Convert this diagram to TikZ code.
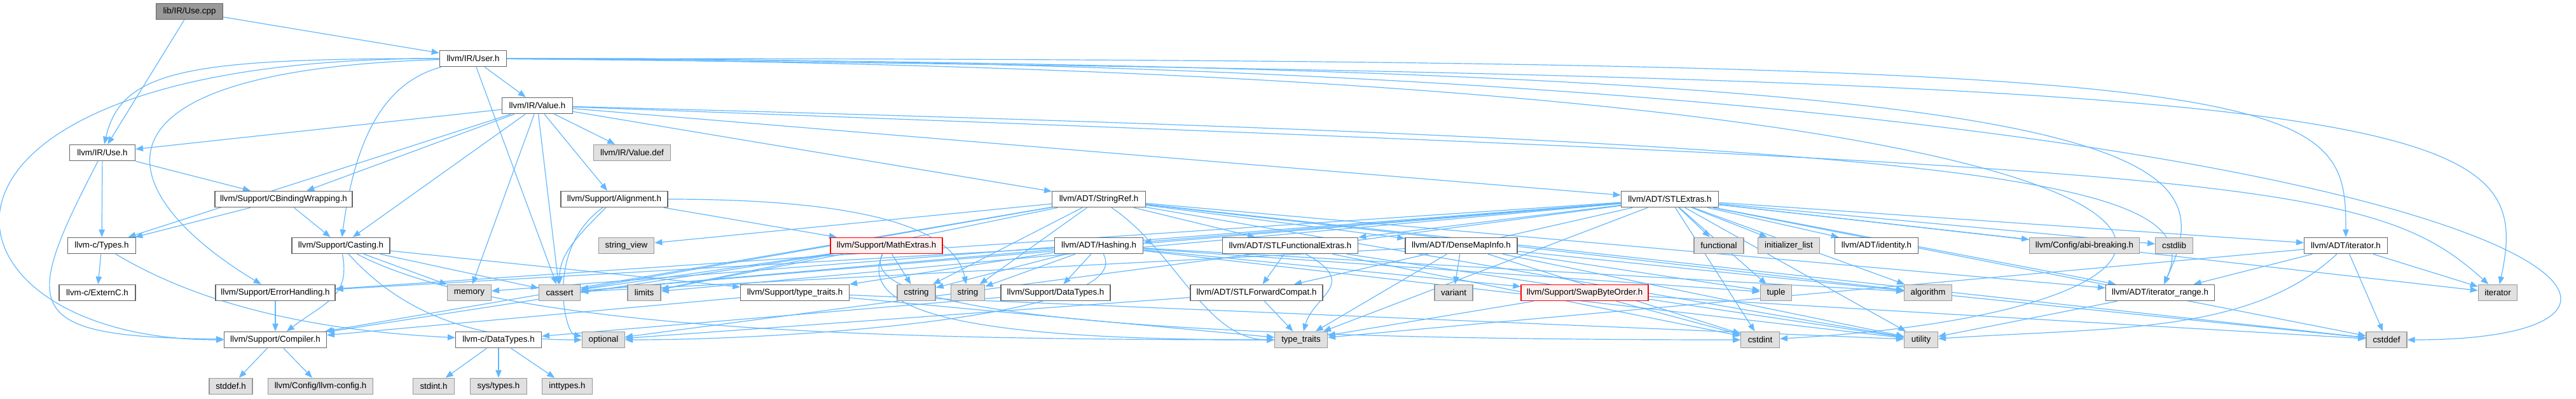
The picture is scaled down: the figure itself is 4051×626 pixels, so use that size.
\documentclass[tikz,border=0pt]{standalone}
\usepackage{fontspec}
\setmainfont{Liberation Sans}
\usetikzlibrary{arrows.meta,backgrounds}
\definecolor{edgeblue}{HTML}{63B8FF}
\definecolor{boxgray}{HTML}{E0E0E0}
\definecolor{framegray}{HTML}{666666}
\definecolor{sysframe}{HTML}{999999}
\definecolor{curgray}{HTML}{999999}
\definecolor{truncfill}{HTML}{FFF0F0}

\begin{document}
\begin{tikzpicture}[
  x=0.75pt, y=-0.75pt,
  file/.style={draw=framegray, fill=white, line width=1pt, minimum height=19pt, inner sep=0pt, font=\fontsize{10}{12}\selectfont},
  sys/.style={file, draw=sysframe, fill=boxgray},
  cur/.style={file, fill=curgray},
  trunc/.style={file, draw=red, fill=truncfill},
  dep/.style={edgeblue, line width=0.9pt, -{Triangle[length=9pt,width=7pt]}}
]
  \useasboundingbox (0,0) rectangle (4051,626);

  % Source file and IR headers
  \node[cur, minimum width=79pt] (usecpp) at (298,18) {lib/IR/Use.cpp};
  \node[file, minimum width=79pt] (userh) at (744,92) {llvm/IR/User.h};
  \node[file, minimum width=83pt] (valueh) at (845,166) {llvm/IR/Value.h};
  \node[file, minimum width=77pt] (useh) at (161,240) {llvm/IR/Use.h};
  \node[sys, minimum width=91pt] (valuedef) at (994,240) {llvm/IR/Value.def};

  % Second level headers
  \node[file, minimum width=162pt] (cbind) at (446,313) {llvm/Support/CBindingWrapping.h};
  \node[file, minimum width=126pt] (align) at (966,313) {llvm/Support/Alignment.h};
  \node[file, minimum width=110pt] (stringref) at (1728,313) {llvm/ADT/StringRef.h};
  \node[file, minimum width=115pt] (stlextras) at (2626,313) {llvm/ADT/STLExtras.h};

  % Third level
  \node[file, minimum width=80pt] (typesh) at (160,386) {llvm-c/Types.h};
  \node[file, minimum width=115.5pt] (casting) at (536,386) {llvm/Support/Casting.h};
  \node[sys, minimum width=65.6pt] (strview) at (985,386) {string\_view};
  \node[trunc, minimum width=132pt] (mathext) at (1394,386) {llvm/Support/MathExtras.h};
  \node[file, minimum width=104.5pt] (hashing) at (1728,386) {llvm/ADT/Hashing.h};
  \node[file, minimum width=160pt] (stlfunc) at (2029,386) {llvm/ADT/STLFunctionalExtras.h};
  \node[file, minimum width=132pt] (densemap) at (2298,386) {llvm/ADT/DenseMapInfo.h};
  \node[sys, minimum width=58.5pt] (functional) at (2703,386) {functional};
  \node[sys, minimum width=72.5pt] (initlist) at (2813,386) {initializer\_list};
  \node[file, minimum width=98pt] (identity) at (2951,386) {llvm/ADT/identity.h};
  \node[sys, minimum width=129.5pt] (abibreak) at (3278,386) {llvm/Config/abi-breaking.h};
  \node[sys, minimum width=44pt] (cstdlib) at (3419,386) {cstdlib};
  \node[file, minimum width=98pt] (iteratorh) at (3689,386) {llvm/ADT/iterator.h};

  % Fourth level
  \node[file, minimum width=90pt] (externc) at (153,460) {llvm-c/ExternC.h};
  \node[file, minimum width=141pt] (errh) at (433,460) {llvm/Support/ErrorHandling.h};
  \node[sys, minimum width=51.6pt] (memory) at (738,460) {memory};
  \node[sys, minimum width=48.5pt] (cassert) at (880,460) {cassert};
  \node[sys, minimum width=39pt] (limits) at (1013,460) {limits};
  \node[file, minimum width=128pt] (sptypetraits) at (1250,460) {llvm/Support/type\_traits.h};
  \node[sys, minimum width=45pt] (cstring) at (1441,460) {cstring};
  \node[sys, minimum width=40pt] (string) at (1522,460) {string};
  \node[file, minimum width=129pt] (sdatatypes) at (1660,460) {llvm/Support/DataTypes.h};
  \node[file, minimum width=156pt] (stlfwd) at (1976,460) {llvm/ADT/STLForwardCompat.h};
  \node[sys, minimum width=45pt] (variant) at (2286,460) {variant};
  \node[trunc, minimum width=150pt] (swapbyte) at (2492,460) {llvm/Support/SwapByteOrder.h};
  \node[sys, minimum width=37pt] (tuple) at (2793,460) {tuple};
  \node[sys, minimum width=56pt] (algorithm) at (3032,460) {algorithm};
  \node[file, minimum width=128pt] (iterrange) at (3397,460) {llvm/ADT/iterator\_range.h};
  \node[sys, minimum width=46pt] (iterator) at (3928,460) {iterator};

  % Fifth level
  \node[file, minimum width=120.5pt] (compiler) at (433,534) {llvm/Support/Compiler.h};
  \node[file, minimum width=101pt] (cdatatypes) at (784,534) {llvm-c/DataTypes.h};
  \node[sys, minimum width=50pt] (optional) at (949,534) {optional};
  \node[sys, minimum width=62pt] (typetraits) at (2046,534) {type\_traits};
  \node[sys, minimum width=45.5pt] (cstdint) at (2768,534) {cstdint};
  \node[sys, minimum width=39.5pt] (utility) at (3021,534) {utility};
  \node[sys, minimum width=48pt] (cstddef) at (3753,534) {cstddef};

  % Bottom row
  \node[sys, minimum width=51pt] (stddefh) at (363,607) {stddef.h};
  \node[sys, minimum width=124pt] (llvmconfig) at (504,607) {llvm/Config/llvm-config.h};
  \node[sys, minimum width=48.5pt] (stdinth) at (682,607) {stdint.h};
  \node[sys, minimum width=67pt] (systypes) at (784,607) {sys/types.h};
  \node[sys, minimum width=59pt] (inttypes) at (892,607) {inttypes.h};

  \begin{scope}[on background layer]
  % Use.cpp
  \draw[dep] (usecpp) -- (useh);
  \draw[dep] (usecpp) -- (userh);

  % User.h
  \draw[dep] (userh) .. controls +(-450,0) and +(30,-130) .. (useh);
  \draw[dep] (userh) .. controls +(-950,0) and +(-560,0) .. (compiler);
  \draw[dep] (userh) .. controls +(-650,20) and +(-250,-150) .. (errh);
  \draw[dep] (userh) .. controls +(-150,40) and +(20,-150) .. (casting);
  \draw[dep] (userh) -- (cassert);
  \draw[dep] (userh) -- (valueh);
  \draw[dep] (userh) .. controls +(2900,0) and +(0,-250) .. (iteratorh);
  \draw[dep] (userh) .. controls +(2700,10) and +(100,-220) .. (iterrange);
  \draw[dep] (userh) .. controls +(3000,20) and +(900,-50) .. (cstdint);
  \draw[dep] (userh) .. controls +(3200,0) and +(650,0) .. (cstddef);
  \draw[dep] (userh) .. controls +(3100,30) and +(60,-280) .. (iterator);

  % Value.h
  \draw[dep] (valueh) -- (useh);
  \draw[dep] (valueh) -- (typesh);
  \draw[dep] (valueh) -- (cbind);
  \draw[dep] (valueh) -- (casting);
  \draw[dep] (valueh) -- (memory);
  \draw[dep] (valueh) -- (cassert);
  \draw[dep] (valueh) -- (valuedef);
  \draw[dep] (valueh) -- (align);
  \draw[dep] (valueh) -- (stringref);
  \draw[dep] (valueh) -- (stlextras);
  \draw[dep] (valueh) .. controls +(2300,60) and +(80,-180) .. (iterrange);
  \draw[dep] (valueh) .. controls +(2700,100) and +(-200,-180) .. (iterator);

  % Use.h and CBindingWrapping.h
  \draw[dep] (useh) -- (cbind);
  \draw[dep] (useh) -- (typesh);
  \draw[dep] (useh) .. controls +(-130,250) and +(-400,-5) .. (compiler);
  \draw[dep] (cbind) -- (typesh);
  \draw[dep] (cbind) -- (casting);

  % Types.h
  \draw[dep] (typesh) -- (externc);
  \draw[dep] (typesh) .. controls +(150,90) and +(-300,-15) .. (cdatatypes);

  % Casting.h
  \draw[dep] (casting) .. controls +(15,80) and +(80,-60) .. (compiler);
  \draw[dep] (casting) -- (sptypetraits);
  \draw[dep] (casting) -- (cassert);
  \draw[dep] (casting) -- (memory);
  \draw[dep] (casting) .. controls +(100,110) and +(-200,0) .. (optional);
  \draw[dep] (casting) .. controls +(250,130) and +(-700,0) .. (typetraits);

  % ErrorHandling.h, Compiler.h, DataTypes.h
  \draw[dep] (errh) -- (compiler);
  \draw[dep] (compiler) -- (stddefh);
  \draw[dep] (compiler) -- (llvmconfig);
  \draw[dep] (cdatatypes) -- (stdinth);
  \draw[dep] (cdatatypes) -- (systypes);
  \draw[dep] (cdatatypes) -- (inttypes);

  % Alignment.h
  \draw[dep] (align) -- (mathext);
  \draw[dep] (align) .. controls +(-60,60) and +(0,-60) .. (cassert);
  \draw[dep] (align) .. controls +(-110,80) and +(-60,-10) .. (optional);
  \draw[dep] (align) .. controls +(400,0) and +(-20,-100) .. (string);

  % MathExtras.h
  \draw[dep] (mathext) -- (cstring);
  \draw[dep] (mathext) -- (limits);
  \draw[dep] (mathext) -- (cassert);
  \draw[dep] (mathext) -- (compiler);
  \draw[dep] (mathext) .. controls +(-60,120) and +(-800,0) .. (cstdint);
  \draw[dep] (mathext) .. controls +(-50,110) and +(-500,0) .. (typetraits);

  % StringRef.h
  \draw[dep] (stringref) -- (densemap);
  \draw[dep] (stringref) -- (stlfunc);
  \draw[dep] (stringref) -- (iterrange);
  \draw[dep] (stringref) -- (compiler);
  \draw[dep] (stringref) -- (algorithm);
  \draw[dep] (stringref) -- (cassert);
  \draw[dep] (stringref) -- (cstddef);
  \draw[dep] (stringref) -- (cstring);
  \draw[dep] (stringref) -- (limits);
  \draw[dep] (stringref) -- (string);
  \draw[dep] (stringref) -- (strview);
  \draw[dep] (stringref) .. controls +(120,80) and +(-150,0) .. (typetraits);
  \draw[dep] (stringref) -- (utility);

  % Hashing.h
  \draw[dep] (hashing) -- (sdatatypes);
  \draw[dep] (hashing) -- (errh);
  \draw[dep] (hashing) -- (swapbyte);
  \draw[dep] (hashing) -- (sptypetraits);
  \draw[dep] (hashing) -- (algorithm);
  \draw[dep] (hashing) -- (cassert);
  \draw[dep] (hashing) -- (cstring);
  \draw[dep] (hashing) .. controls +(60,110) and +(300,0) .. (optional);
  \draw[dep] (hashing) -- (string);
  \draw[dep] (hashing) -- (tuple);
  \draw[dep] (hashing) -- (utility);

  % STLExtras.h
  \draw[dep] (stlextras) -- (hashing);
  \draw[dep] (stlextras) -- (stlfwd);
  \draw[dep] (stlextras) -- (stlfunc);
  \draw[dep] (stlextras) -- (identity);
  \draw[dep] (stlextras) -- (iteratorh);
  \draw[dep] (stlextras) -- (iterrange);
  \draw[dep] (stlextras) -- (abibreak);
  \draw[dep] (stlextras) -- (errh);
  \draw[dep] (stlextras) -- (algorithm);
  \draw[dep] (stlextras) -- (cassert);
  \draw[dep] (stlextras) -- (cstddef);
  \draw[dep] (stlextras) -- (cstdint);
  \draw[dep] (stlextras) -- (cstdlib);
  \draw[dep] (stlextras) -- (functional);
  \draw[dep] (stlextras) -- (initlist);
  \draw[dep] (stlextras) -- (iterator);
  \draw[dep] (stlextras) -- (limits);
  \draw[dep] (stlextras) -- (memory);
  \draw[dep] (stlextras) -- (optional);
  \draw[dep] (stlextras) -- (tuple);
  \draw[dep] (stlextras) -- (typetraits);
  \draw[dep] (stlextras) -- (utility);

  % DenseMapInfo.h
  \draw[dep] (densemap) -- (variant);
  \draw[dep] (densemap) -- (typetraits);
  \draw[dep] (densemap) -- (cassert);
  \draw[dep] (densemap) -- (cstddef);
  \draw[dep] (densemap) -- (cstdint);
  \draw[dep] (densemap) -- (tuple);
  \draw[dep] (densemap) -- (utility);

  % STLFunctionalExtras.h and STLForwardCompat.h
  \draw[dep] (stlfunc) -- (stlfwd);
  \draw[dep] (stlfunc) .. controls +(110,60) and +(20,-70) .. (typetraits);
  \draw[dep] (stlfunc) -- (cstdint);
  \draw[dep] (stlfunc) -- (utility);
  \draw[dep] (stlfwd) -- (optional);
  \draw[dep] (stlfwd) -- (typetraits);

  % Support/DataTypes.h, type_traits.h, SwapByteOrder.h
  \draw[dep] (sdatatypes) -- (cdatatypes);
  \draw[dep] (sptypetraits) -- (compiler);
  \draw[dep] (sptypetraits) -- (typetraits);
  \draw[dep] (sptypetraits) -- (utility);
  \draw[dep] (swapbyte) -- (typetraits);
  \draw[dep] (swapbyte) -- (cstdint);
  \draw[dep] (swapbyte) -- (cstddef);

  % iterator.h and iterator_range.h
  \draw[dep] (iteratorh) -- (iterrange);
  \draw[dep] (iteratorh) -- (cstddef);
  \draw[dep] (iteratorh) -- (iterator);
  \draw[dep] (iteratorh) -- (typetraits);
  \draw[dep] (iteratorh) .. controls +(-150,140) and +(300,-20) .. (utility);
  \draw[dep] (iterrange) -- (utility);
  \end{scope}
\end{tikzpicture}
\end{document}
